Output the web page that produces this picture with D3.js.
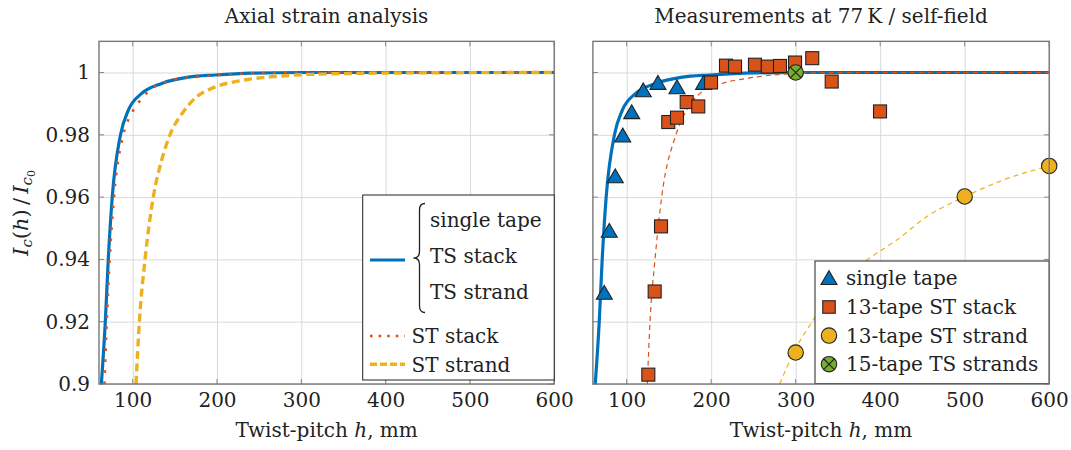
<!DOCTYPE html>
<html><head><meta charset="utf-8">
<script src="https://cdn.jsdelivr.net/npm/d3@7"></script>
<style>
html,body{margin:0;padding:0;background:#fff;}
svg{display:block;font-family:"DejaVu Serif",serif;}
</style></head>
<body><svg id="c" width="1071" height="450"></svg>
<script>
// ---------- data ----------
const xTicks = [100, 200, 300, 400, 500, 600];
const yTicks = [0.9, 0.92, 0.94, 0.96, 0.98, 1];
const yTickLabels = ["0.9", "0.92", "0.94", "0.96", "0.98", "1"];

// left panel model curves
const singleTapeCurve = [[62.8,0.9],[67.5,0.92],[71,0.94],[75.7,0.96],[85.5,0.98],[95,0.988],[110.7,0.9933],[134.4,0.9965],[166,0.9985],[198,0.9992],[240,0.9998],[300,1],[600,1]];
const stStackCurve = [[66.5,0.9],[69.2,0.92],[72.7,0.94],[77.8,0.96],[88.8,0.98],[98.8,0.9869],[112.6,0.9922],[122.5,0.9949],[134.4,0.9965],[147.4,0.9976],[174,0.9985],[220,0.9995],[300,1],[600,1]];
const stStrandCurve = [[103.9,0.9],[107.9,0.92],[114.6,0.94],[124.4,0.96],[134.4,0.9719],[144.2,0.98],[158.8,0.9869],[175.8,0.9922],[193.7,0.9949],[233,0.9976],[272.5,0.9988],[312,0.9994],[364,0.9997],[450,0.9999],[600,1]];

// right panel fits
const stackFit = [[124.4,0.9],[127.6,0.92],[133.5,0.94],[141.4,0.96],[158.3,0.98],[171,0.988],[186.7,0.9933],[210.4,0.9963],[242,0.9981],[273.5,0.9992],[310,0.9998],[360,1],[600,1]];
const strandFit = [[281,0.9],[299.2,0.911],[320.8,0.9206],[348.5,0.9323],[384,0.9398],[419.5,0.9462],[455,0.9537],[500,0.9601],[545.7,0.9655],[600,0.970]];

// right panel measurements
const singleTapePts = [[73.5,0.9292],[79.4,0.9491],[86.5,0.9666],[95.3,0.9797],[105.9,0.9872],[119.6,0.9942],[137,0.9966],[159.5,0.9952],[191,0.9966]];
const stStackPts = [[125.6,0.903],[133.1,0.9297],[140.6,0.9506],[149.2,0.9841],[159.5,0.9855],[171,0.9905],[184.7,0.9891],[199.8,0.9968],[217.5,1.0022],[228.2,1.0019],[251.8,1.0025],[266.9,1.0019],[281.4,1.0021],[299.2,1.0032],[319.6,1.0046],[342.6,0.9971],[399.8,0.9875]];
const stStrandPts = [[300,0.9101],[500,0.9602],[600,0.970]];
const tsStrandPts = [[300,1.0]];

const leftTitle = "Axial strain analysis";
const rightTitle = "Measurements at 77\u2009K / self-field";

// ---------- style ----------
const C = {blue:"#0072BD", orange:"#D95319", yellow:"#EDB120", green:"#77AC30", ink:"#222", frame:"#777", grid:"#d9d9d9"};
const FS = 20;

const svg = d3.select("#c");
const yS = d3.scaleLinear().domain([0.9, 1.01]).range([384, 41.35]);
const xL = d3.scaleLinear().domain([60, 600]).range([99, 554.2]);
const xR = d3.scaleLinear().domain([60, 600]).range([592.9, 1049.2]);

function panel(x, id, showY){
  const g = svg.append("g");
  const [x0, x1] = x.range(), [y1, y0] = yS.range();
  g.append("clipPath").attr("id", id).append("rect").attr("x", x0).attr("y", y0).attr("width", x1-x0).attr("height", y1-y0);
  g.append("g").attr("transform", `translate(0,${y1})`)
    .call(d3.axisBottom(x).tickValues(xTicks).tickSize(-(y1-y0)).tickFormat(""))
    .call(s => { s.select(".domain").remove(); s.selectAll("line").attr("stroke", C.grid).attr("stroke-width", 1); });
  g.append("g").attr("transform", `translate(${x0},0)`)
    .call(d3.axisLeft(yS).tickValues(yTicks).tickSize(-(x1-x0)).tickFormat(""))
    .call(s => { s.select(".domain").remove(); s.selectAll("line").attr("stroke", C.grid).attr("stroke-width", 1); });
  const tk = 5;
  const tg = g.append("g").attr("stroke", "#888").attr("stroke-width", 1);
  xTicks.forEach(v => {
    tg.append("line").attr("x1", x(v)).attr("x2", x(v)).attr("y1", y1).attr("y2", y1-tk);
    tg.append("line").attr("x1", x(v)).attr("x2", x(v)).attr("y1", y0).attr("y2", y0+tk);
  });
  yTicks.forEach(v => {
    tg.append("line").attr("x1", x0).attr("x2", x0+tk).attr("y1", yS(v)).attr("y2", yS(v));
    tg.append("line").attr("x1", x1).attr("x2", x1-tk).attr("y1", yS(v)).attr("y2", yS(v));
  });
  g.append("g").attr("transform", `translate(0,${y1})`)
    .call(d3.axisBottom(x).tickValues(xTicks).tickSize(0).tickPadding(9))
    .call(s => { s.select(".domain").remove(); s.selectAll("text").attr("font-size", FS).attr("font-family", "DejaVu Serif").attr("fill", C.ink); });
  if (showY){
    g.append("g").attr("transform", `translate(${x0},0)`)
      .call(d3.axisLeft(yS).tickValues(yTicks).tickSize(0).tickPadding(9).tickFormat((d,i) => yTickLabels[i]))
      .call(s => { s.select(".domain").remove(); s.selectAll("text").attr("font-size", FS).attr("font-family", "DejaVu Serif").attr("fill", C.ink); });
  }
  return {g, x0, x1, y0, y1};
}

function frame(p){
  p.g.append("rect").attr("x", p.x0).attr("y", p.y0).attr("width", p.x1-p.x0).attr("height", p.y1-p.y0)
    .attr("fill", "none").attr("stroke", C.frame).attr("stroke-width", 1.4);
}

const L = panel(xL, "clipL", true);
const R = panel(xR, "clipR", false);

// ---------- left curves ----------
const lineL = d3.line().x(d => xL(d[0])).y(d => yS(d[1])).curve(d3.curveMonotoneX);
const cl = L.g.append("g").attr("clip-path", "url(#clipL)");
cl.append("path").attr("d", lineL(singleTapeCurve)).attr("fill","none").attr("stroke",C.blue).attr("stroke-width",3.2);
cl.append("path").attr("d", lineL(stStackCurve)).attr("fill","none").attr("stroke",C.orange).attr("stroke-width",2.6).attr("stroke-dasharray","2.6 8.4");
cl.append("path").attr("d", lineL(stStrandCurve)).attr("fill","none").attr("stroke",C.yellow).attr("stroke-width",3.4).attr("stroke-dasharray","8 4.5");
frame(L);

// left legend
const lg = L.g.append("g");
lg.append("rect").attr("x",362.7).attr("y",195).attr("width",554.2-362.7).attr("height",185).attr("fill","#fff").attr("stroke",C.ink).attr("stroke-width",1);
lg.append("line").attr("x1",370).attr("x2",405).attr("y1",260).attr("y2",260).attr("stroke",C.blue).attr("stroke-width",3.2);
lg.append("path").attr("d","M425,203.5 Q419.5,203.5 419.5,210 L419.5,251.5 Q419.5,258 413.5,258 Q419.5,258 419.5,264.5 L419.5,306 Q419.5,312.5 425,312.5")
  .attr("fill","none").attr("stroke",C.ink).attr("stroke-width",1.3);
[["single tape",227],["TS stack",263],["TS strand",299]].forEach(([t,yy]) =>
  lg.append("text").attr("x",430).attr("y",yy).attr("font-size",FS).attr("fill",C.ink).text(t));
lg.append("line").attr("x1",370).attr("x2",405).attr("y1",336).attr("y2",336).attr("stroke",C.orange).attr("stroke-width",2.6).attr("stroke-dasharray","2.6 6");
lg.append("line").attr("x1",370).attr("x2",405).attr("y1",364.3).attr("y2",364.3).attr("stroke",C.yellow).attr("stroke-width",3.4).attr("stroke-dasharray","7 3");
lg.append("text").attr("x",411.5).attr("y",343).attr("font-size",FS).attr("fill",C.ink).text("ST stack");
lg.append("text").attr("x",411.5).attr("y",371.5).attr("font-size",FS).attr("fill",C.ink).text("ST strand");

// ---------- right curves ----------
const lineR = d3.line().x(d => xR(d[0])).y(d => yS(d[1])).curve(d3.curveMonotoneX);
const cr = R.g.append("g").attr("clip-path", "url(#clipR)");
cr.append("path").attr("d", lineR(singleTapeCurve)).attr("fill","none").attr("stroke",C.blue).attr("stroke-width",3.2);
cr.append("path").attr("d", lineR(stackFit)).attr("fill","none").attr("stroke",C.orange).attr("stroke-width",1.2).attr("stroke-dasharray","5 4");
cr.append("path").attr("d", lineR(strandFit)).attr("fill","none").attr("stroke",C.yellow).attr("stroke-width",1.2).attr("stroke-dasharray","5 4");

function tri(g, cx, cy, s){
  const h = s*0.866;
  return g.append("path").attr("d", `M${cx},${cy-h*0.55} L${cx+s/2},${cy+h*0.45} L${cx-s/2},${cy+h*0.45} Z`)
    .attr("fill",C.blue).attr("stroke",C.ink).attr("stroke-width",1.1).attr("stroke-linejoin","miter");
}
function sq(g, cx, cy, s){
  return g.append("rect").attr("x",cx-s/2).attr("y",cy-s/2).attr("width",s).attr("height",s)
    .attr("fill",C.orange).attr("stroke",C.ink).attr("stroke-width",1.1);
}
function circ(g, cx, cy, r, fill){
  return g.append("circle").attr("cx",cx).attr("cy",cy).attr("r",r).attr("fill",fill).attr("stroke",C.ink).attr("stroke-width",1.1);
}
function otimes(g, cx, cy, r){
  circ(g, cx, cy, r, C.green);
  const d = r*0.707;
  g.append("path").attr("d",`M${cx-d},${cy-d}L${cx+d},${cy+d}M${cx-d},${cy+d}L${cx+d},${cy-d}`).attr("stroke",C.ink).attr("stroke-width",1.1);
}
const mk = R.g.append("g");
singleTapePts.forEach(d => tri(mk, xR(d[0]), yS(d[1]), 16));
stStackPts.forEach(d => sq(mk, xR(d[0]), yS(d[1]), 13));
stStrandPts.forEach(d => circ(mk, xR(d[0]), yS(d[1]), 7.7, C.yellow));
tsStrandPts.forEach(d => otimes(mk, xR(d[0]), yS(d[1]), 7.7));

// right legend
const rg = R.g.append("g");
rg.append("rect").attr("x",815).attr("y",261).attr("width",1049.2-815).attr("height",122.5).attr("fill","#fff").attr("stroke",C.ink).attr("stroke-width",1);
const rows = [278.3, 307, 335.6, 364.2];
tri(rg, 829, rows[0], 16);
sq(rg, 829, rows[1], 12.5);
circ(rg, 829, rows[2], 7.7, C.yellow);
otimes(rg, 829, rows[3], 7.7);
["single tape","13-tape ST stack","13-tape ST strand","15-tape TS strands"].forEach((t,i) =>
  rg.append("text").attr("x",846).attr("y",rows[i]+7).attr("font-size",FS).attr("fill",C.ink).text(t));
frame(R);

// ---------- titles & axis labels ----------
svg.append("text").attr("x",(L.x0+L.x1)/2).attr("y",23).attr("text-anchor","middle").attr("font-size",FS).attr("fill",C.ink).text(leftTitle);
svg.append("text").attr("x",(R.x0+R.x1)/2).attr("y",23).attr("text-anchor","middle").attr("font-size",FS).attr("fill",C.ink).text(rightTitle);
function xlabel(cx){
  const t = svg.append("text").attr("x",cx).attr("y",437).attr("text-anchor","middle").attr("font-size",FS).attr("fill",C.ink);
  t.append("tspan").text("Twist-pitch ");
  t.append("tspan").attr("font-style","italic").text("h");
  t.append("tspan").text(", mm");
}
xlabel((L.x0+L.x1)/2);
xlabel((R.x0+R.x1)/2);
const yl = svg.append("text").attr("transform","translate(28,213) rotate(-90)").attr("text-anchor","middle").attr("font-size",21).attr("fill",C.ink);
yl.append("tspan").attr("font-style","italic").text("I");
yl.append("tspan").attr("font-style","italic").attr("font-size",15).attr("dy",4).text("c");
yl.append("tspan").attr("dy",-4).text("(");
yl.append("tspan").attr("font-style","italic").text("h");
yl.append("tspan").text(")\u2009/\u2009");
yl.append("tspan").attr("font-style","italic").text("I");
yl.append("tspan").attr("font-style","italic").attr("font-size",15).attr("dy",4).text("c");
yl.append("tspan").attr("font-size",11).attr("dy",3).text("0");
</script></body></html>
